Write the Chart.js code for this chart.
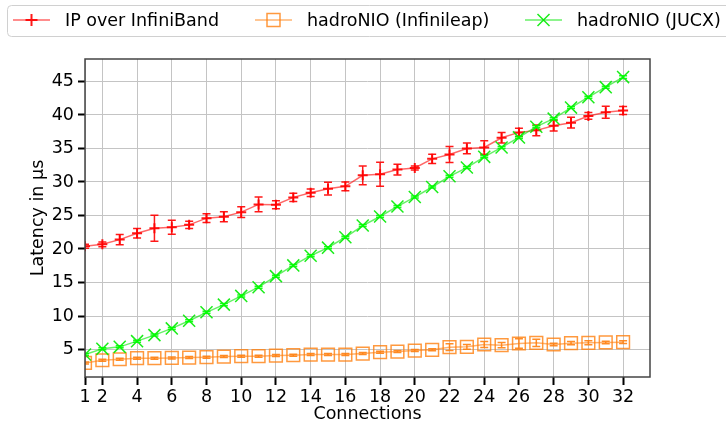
<!DOCTYPE html>
<html>
<head>
<meta charset="utf-8">
<script src="https://cdn.jsdelivr.net/npm/chart.js@4.4.1/dist/chart.umd.min.js"></script>
<style>
  body { margin: 0; background: #fff; }
  #wrap { width: 726px; height: 423px; }
</style>
</head>
<body>
<div id="wrap"><canvas id="latencyChart" width="726" height="423"></canvas></div>
<script>
// Data
const connections = [1, 2, 3, 4, 5, 6, 7, 8, 9, 10, 11, 12, 13, 14, 15, 16,
                     17, 18, 19, 20, 21, 22, 23, 24, 25, 26, 27, 28, 29, 30, 31, 32];
const xTickValues = [1, 2, 4, 6, 8, 10, 12, 14, 16, 18, 20, 22, 24, 26, 28, 30, 32];
const yTickValues = [5, 10, 15, 20, 25, 30, 35, 40, 45];

const seriesLabels = ['IP over InfiniBand', 'hadroNIO (Infinileap)', 'hadroNIO (JUCX)'];

const ipoibMean = [20.4, 20.7, 21.4, 22.35, 23.1, 23.25, 23.6, 24.6, 24.8, 25.5, 26.65, 26.6,
                   27.7, 28.4, 29.0, 29.35, 31.0, 31.15, 31.85, 32.1, 33.45, 34.1, 35.0, 35.15,
                   36.6, 37.4, 37.7, 38.4, 38.85, 39.85, 40.4, 40.65];
const ipoibErr  = [0.3, 0.35, 0.75, 0.7, 1.95, 1.05, 0.55, 0.65, 0.75, 0.8, 1.1, 0.6,
                   0.6, 0.55, 0.95, 0.65, 1.4, 1.8, 0.8, 0.3, 0.7, 1.2, 0.8, 1.0,
                   0.8, 0.6, 0.8, 0.8, 0.8, 0.5, 0.9, 0.6];

const infinileapMean = [3.0, 3.4, 3.55, 3.7, 3.7, 3.75, 3.8, 3.85, 3.95, 4.0, 4.0, 4.1,
                        4.15, 4.25, 4.25, 4.25, 4.4, 4.6, 4.7, 4.85, 4.95, 5.35, 5.4, 5.75,
                        5.65, 5.9, 6.0, 5.75, 5.95, 6.0, 6.05, 6.1];
const infinileapErr  = [0.15, 0.15, 0.15, 0.15, 0.15, 0.15, 0.15, 0.15, 0.15, 0.15, 0.15, 0.15,
                        0.15, 0.15, 0.15, 0.15, 0.15, 0.15, 0.15, 0.15, 0.15, 0.5, 0.35, 0.45,
                        0.4, 0.7, 0.55, 0.2, 0.25, 0.3, 0.2, 0.2];

const jucxMean = [4.25, 5.1, 5.4, 6.25, 7.15, 8.15, 9.3, 10.55, 11.7, 13.0, 14.3, 15.95,
                  17.55, 19.0, 20.2, 21.75, 23.5, 24.85, 26.35, 27.75, 29.25, 30.85, 32.15, 33.75,
                  35.15, 36.65, 38.25, 39.45, 41.1, 42.65, 44.15, 45.65];
const jucxErr  = [0.15, 0.15, 0.15, 0.15, 0.15, 0.15, 0.15, 0.15, 0.15, 0.15, 0.15, 0.15,
                  0.15, 0.15, 0.15, 0.15, 0.15, 0.15, 0.15, 0.15, 0.15, 0.15, 0.15, 0.15,
                  0.15, 0.15, 0.15, 0.15, 0.15, 0.15, 0.15, 0.2];

const FONT = 'DejaVu Sans';
const FONT_SIZE = 17.5;

function toPoints(means) {
    return means.map((y, i) => ({ x: connections[i], y: y }));
}

// error bars with caps, drawn through the chart's scales
const errorBarPlugin = {
    id: 'errorBars',
    afterDatasetDraw(chart, args) {
        const ds = chart.data.datasets[args.index];
        if (!ds.errors) return;
        const ctx = chart.ctx;
        const xs = chart.scales.x, ys = chart.scales.y;
        const area = chart.chartArea;
        ctx.save();
        ctx.beginPath();
        ctx.rect(area.left, area.top, area.right - area.left, area.bottom - area.top);
        ctx.clip();
        ctx.strokeStyle = ds.errorColor;
        ctx.lineWidth = 1.5;
        ds.data.forEach((p, i) => {
            const e = ds.errors[i];
            const px = xs.getPixelForValue(p.x);
            const yTop = ys.getPixelForValue(p.y + e);
            const yBot = ys.getPixelForValue(p.y - e);
            ctx.beginPath();
            ctx.moveTo(px, yTop); ctx.lineTo(px, yBot);
            ctx.moveTo(px - 4, yTop); ctx.lineTo(px + 4, yTop);
            ctx.moveTo(px - 4, yBot); ctx.lineTo(px + 4, yBot);
            ctx.stroke();
        });
        ctx.restore();
    }
};

// full box around the plot area
const framePlugin = {
    id: 'frame',
    afterDatasetsDraw(chart) {
        const a = chart.chartArea, ctx = chart.ctx;
        ctx.save();
        ctx.strokeStyle = '#444';
        ctx.lineWidth = 1.5;
        ctx.strokeRect(a.left, a.top, a.right - a.left, a.bottom - a.top);
        ctx.restore();
    }
};

// matplotlib-like legend box across the top
const legendPlugin = {
    id: 'topLegend',
    afterDraw(chart) {
        const ctx = chart.ctx;
        ctx.save();
        ctx.fillStyle = 'rgba(255,255,255,0.8)';
        ctx.strokeStyle = '#d0d0d0';
        ctx.lineWidth = 1;
        ctx.beginPath();
        ctx.roundRect(7.5, 5.5, 740, 31, 4);
        ctx.fill();
        ctx.stroke();

        const starts = [13, 255, 525];
        const y = 20;
        chart.data.datasets.forEach((ds, i) => {
            const x0 = starts[i];
            const cx = x0 + 18.5;
            ctx.strokeStyle = ds.borderColor;
            ctx.lineWidth = 1.5;
            ctx.beginPath();
            ctx.moveTo(x0, y); ctx.lineTo(x0 + 37, y);
            ctx.stroke();
            ctx.strokeStyle = ds.pointBorderColor;
            ctx.lineWidth = ds.pointBorderWidth;
            ctx.beginPath();
            if (ds.pointStyle === 'cross') {
                ctx.moveTo(cx - 6, y); ctx.lineTo(cx + 6, y);
                ctx.moveTo(cx, y - 6); ctx.lineTo(cx, y + 6);
            } else if (ds.pointStyle === 'rect') {
                ctx.rect(cx - 6.5, y - 6.5, 13, 13);
            } else {
                ctx.moveTo(cx - 6, y - 6); ctx.lineTo(cx + 6, y + 6);
                ctx.moveTo(cx + 6, y - 6); ctx.lineTo(cx - 6, y + 6);
            }
            ctx.stroke();
            ctx.fillStyle = '#000';
            ctx.font = FONT_SIZE + 'px "' + FONT + '"';
            ctx.textBaseline = 'middle';
            ctx.textAlign = 'left';
            ctx.fillText(ds.label, x0 + 52, y + 1);
        });
        ctx.restore();
    }
};

const ctx = document.getElementById('latencyChart').getContext('2d');
const latencyChart = new Chart(ctx, {
    type: 'line',
    data: {
        datasets: [
            {
                label: seriesLabels[0],
                data: toPoints(ipoibMean),
                errors: ipoibErr,
                errorColor: 'rgba(255,0,0,0.9)',
                borderColor: 'rgba(255,0,0,0.6)',
                borderWidth: 1.5,
                pointStyle: 'cross',
                pointRadius: 5,
                pointBorderColor: 'rgba(255,0,0,0.9)',
                pointBorderWidth: 2,
                pointBackgroundColor: 'transparent',
                order: 2
            },
            {
                label: seriesLabels[1],
                data: toPoints(infinileapMean),
                errors: infinileapErr,
                errorColor: 'rgba(255,127,14,0.9)',
                borderColor: 'rgba(255,127,14,0.6)',
                borderWidth: 1.5,
                pointStyle: 'rect',
                pointRadius: 9,
                pointBorderColor: 'rgba(255,127,14,0.8)',
                pointBorderWidth: 1.5,
                pointBackgroundColor: 'transparent',
                order: 1
            },
            {
                label: seriesLabels[2],
                data: toPoints(jucxMean),
                errors: jucxErr,
                errorColor: 'rgba(0,255,0,0.9)',
                borderColor: 'rgba(0,230,0,0.6)',
                borderWidth: 1.5,
                pointStyle: 'crossRot',
                pointRadius: 8.5,
                pointBorderColor: 'rgba(0,235,0,0.9)',
                pointBorderWidth: 1.5,
                pointBackgroundColor: 'transparent',
                order: 0
            }
        ]
    },
    options: {
        responsive: false,
        animation: false,
        devicePixelRatio: 1,
        layout: { padding: { left: 0, right: 76, top: 59, bottom: 0 } },
        plugins: {
            legend: { display: false },
            tooltip: { enabled: false }
        },
        elements: { line: { tension: 0 } },
        scales: {
            x: {
                type: 'linear',
                min: 1,
                max: 33.55,
                afterBuildTicks: s => { s.ticks = xTickValues.map(v => ({ value: v })); },
                afterFit: s => { s.height = 46; },
                border: { display: false },
                grid: { color: '#c4c4c4', lineWidth: 1, tickColor: '#000', tickWidth: 2, tickLength: 8 },
                ticks: { color: '#000', font: { family: FONT, size: FONT_SIZE }, padding: 2,
                         autoSkip: false, maxRotation: 0 },
                title: { display: true, text: 'Connections', color: '#000',
                         font: { family: FONT, size: FONT_SIZE }, padding: { top: 0, bottom: -2 } }
            },
            y: {
                type: 'linear',
                min: 0.9,
                max: 48.35,
                afterBuildTicks: s => { s.ticks = yTickValues.map(v => ({ value: v })); },
                afterFit: s => { s.width = 85; },
                border: { display: false },
                grid: { color: '#c4c4c4', lineWidth: 1, tickColor: '#000', tickWidth: 2, tickLength: 7 },
                ticks: { color: '#000', font: { family: FONT, size: FONT_SIZE }, padding: 4 },
                title: { display: true, text: 'Latency in µs', color: '#000',
                         font: { family: FONT, size: FONT_SIZE }, padding: { top: 28, bottom: 0 } }
            }
        }
    },
    plugins: [errorBarPlugin, framePlugin, legendPlugin]
});
</script>
</body>
</html>
